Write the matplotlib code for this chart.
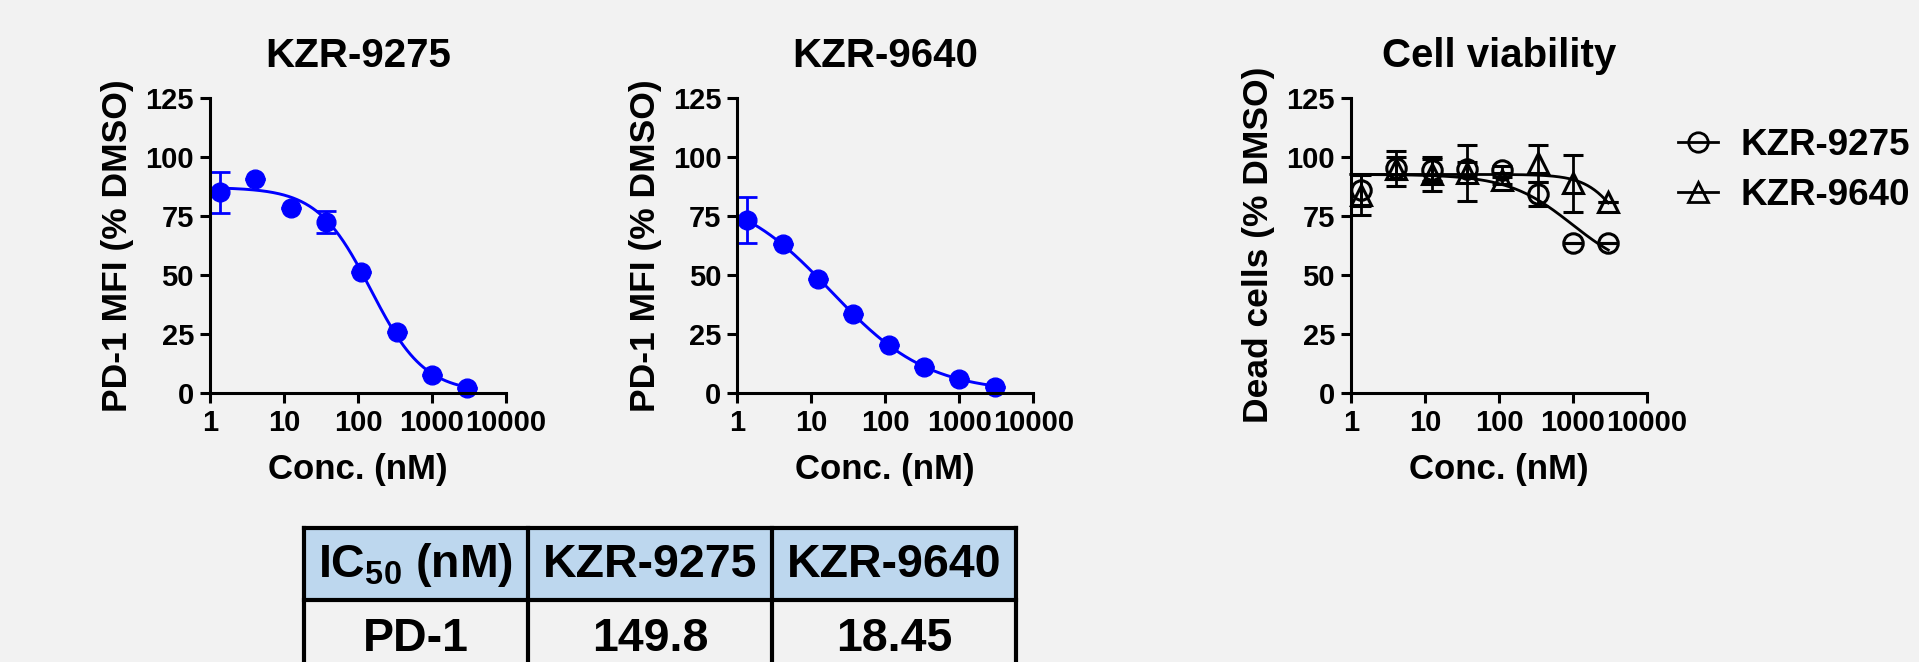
import numpy as np
import matplotlib
matplotlib.use("Agg")
import matplotlib.pyplot as plt
from matplotlib.patches import Rectangle
from matplotlib.lines import Line2D
from matplotlib.ticker import LogLocator, FixedLocator, FixedFormatter, NullFormatter

plt.rcParams['font.family'] = ['Liberation Sans', 'DejaVu Sans']
plt.rcParams['font.weight'] = 'bold'
plt.rcParams['mathtext.fontset'] = 'custom'
plt.rcParams['mathtext.rm'] = 'Liberation Sans:bold'
plt.rcParams['mathtext.bf'] = 'Liberation Sans:bold'

# ---------------- data ----------------
conc = [1.372, 4.115, 12.35, 37.04, 111.1, 333.3, 1000, 3000]

pd1_9275 = [84.9, 90.4, 78.1, 72.5, 51.0, 25.6, 7.5, 2.1]
pd1_9275_err = [8.6, 0, 0, 4.7, 0, 0, 0, 0]
pd1_9640 = [73.2, 63.0, 48.3, 33.2, 20.1, 10.7, 5.6, 2.5]
pd1_9640_err = [9.8, 0, 0, 0, 0, 0, 0, 0]

via_9275 = [85.9, 95.2, 94.4, 94.7, 94.4, 84.2, 63.3, 63.6]
via_9275_err = [6.8, 4.8, 4.5, 3.0, 1.5, 5.2, 0, 0]
via_9640 = [83.7, 95.0, 92.6, 93.1, 90.1, 97.2, 88.7, 80.9]
via_9640_err = [8.4, 7.5, 7.1, 11.9, 1.5, 7.8, 12.0, 0]

# fitted 4-parameter logistic curves: top, bottom, IC50, hill
fit_pd1_9275 = [87.0, 0.0, 149.8, 1.2]
fit_pd1_9640 = [86.0, 0.0, 18.45, 0.66]
fit_via_9275 = [92.5, 50.0, 980.0, 1.0]
fit_via_9640 = [92.5, 50.0, 5000.0, 1.8]

series_names = ["KZR-9275", "KZR-9640"]
yticks = [0, 25, 50, 75, 100, 125]
xticks = [1, 10, 100, 1000, 10000]
xticklabels = ["1", "10", "100", "1000", "10000"]

table_header = ["IC$_{50}$ (nM)", "KZR-9275", "KZR-9640"]
table_row = ["PD-1", "149.8", "18.45"]


def fourpl(x, p):
    top, bottom, ic50, hill = p
    return bottom + (top - bottom) / (1.0 + (x / ic50) ** hill)


BG = '#f2f2f2'
BLUE = '#0000ff'
W, H = 1919, 662
fig = plt.figure(figsize=(W / 100, H / 100), dpi=100, facecolor=BG)


def add_ax(left_px):
    ax = fig.add_axes([left_px / W, 1 - 392.7 / H, 296 / W, 295 / H])
    ax.set_facecolor(BG)
    ax.set_xscale('log')
    ax.set_xlim(1, 10000)
    ax.set_ylim(0, 125)
    for s in ['top', 'right']:
        ax.spines[s].set_visible(False)
    for s in ['left', 'bottom']:
        ax.spines[s].set_linewidth(2.2)
    ax.xaxis.set_major_locator(FixedLocator(xticks))
    ax.xaxis.set_major_formatter(FixedFormatter(xticklabels))
    ax.xaxis.set_minor_locator(LogLocator(base=10, subs=np.arange(2, 10)))
    ax.xaxis.set_minor_formatter(NullFormatter())
    ax.set_yticks(yticks)
    ax.tick_params(which='major', length=7.5, width=2.2, labelsize=21, pad=4)
    ax.tick_params(which='minor', length=4, width=2.0)
    ax.tick_params(axis='y', which='minor', left=False)
    for lab in ax.get_xticklabels() + ax.get_yticklabels():
        lab.set_fontweight('bold')
    ax.set_xlabel("Conc. (nM)", fontsize=25, fontweight='bold', labelpad=12)
    return ax


# panel 1
ax1 = add_ax(210)
xs = np.logspace(np.log10(conc[0]), np.log10(conc[-1]), 300)
ax1.plot(xs, fourpl(xs, fit_pd1_9275), color=BLUE, lw=2.1, clip_on=False)
ax1.errorbar(conc, pd1_9275, yerr=pd1_9275_err, fmt='o', color=BLUE, ms=13.5,
             elinewidth=2, capsize=7.5, capthick=2, clip_on=False)
ax1.set_title("KZR-9275", fontsize=29, fontweight='bold', pad=22)
ax1.set_ylabel("PD-1 MFI (% DMSO)", fontsize=25.5, fontweight='bold', labelpad=8)

# panel 2
ax2 = add_ax(737.3)
ax2.plot(xs, fourpl(xs, fit_pd1_9640), color=BLUE, lw=2.1, clip_on=False)
ax2.errorbar(conc, pd1_9640, yerr=pd1_9640_err, fmt='o', color=BLUE, ms=13.5,
             elinewidth=2, capsize=7.5, capthick=2, clip_on=False)
ax2.set_title("KZR-9640", fontsize=29, fontweight='bold', pad=22)
ax2.set_ylabel("PD-1 MFI (% DMSO)", fontsize=25.5, fontweight='bold', labelpad=8)

# panel 3
ax3 = add_ax(1351)
xs3 = np.logspace(0, np.log10(conc[-1]), 300)
ax3.plot(xs3, fourpl(xs3, fit_via_9275), color='black', lw=2.0, clip_on=False)
ax3.plot(xs3, fourpl(xs3, fit_via_9640), color='black', lw=2.0, clip_on=False)
ax3.errorbar(conc, via_9275, yerr=via_9275_err, fmt='o', mfc='none', mec='black',
             mew=2.2, ms=14, ecolor='black', elinewidth=2, capsize=7.5, capthick=2,
             clip_on=False)
ax3.errorbar(conc, via_9640, yerr=via_9640_err, fmt='^', mfc='none', mec='black',
             mew=2.2, ms=14, ecolor='black', elinewidth=2, capsize=7.5, capthick=2,
             clip_on=False)
ax3.set_title("Cell viability", fontsize=29, fontweight='bold', pad=22)
ax3.set_ylabel("Dead cells (% DMSO)", fontsize=25.5, fontweight='bold', labelpad=8)

handles = [Line2D([], [], color='black', lw=2, marker='o', mfc='none', mec='black', mew=2, ms=14),
           Line2D([], [], color='black', lw=2, marker='^', mfc='none', mec='black', mew=2, ms=14)]
fig.legend(handles, series_names, loc='upper left', bbox_to_anchor=(1678 / W, 1 - 128 / H),
           frameon=False, handlelength=1.09, handletextpad=0.6,
           labelspacing=0.4, borderpad=0, borderaxespad=0,
           prop={'weight': 'bold', 'size': 26.5})

# ---------------- table ----------------
tax = fig.add_axes([0, 0, 1, 1])
tax.set_xlim(0, W)
tax.set_ylim(H, 0)
tax.axis('off')
tax.patch.set_alpha(0)
col_edges = [304, 528, 772, 1016]
row_edges = [528, 600, 672]
HEAD = '#bdd7ee'
for i in range(3):
    tax.add_patch(Rectangle((col_edges[i], row_edges[0]), col_edges[i + 1] - col_edges[i],
                            row_edges[1] - row_edges[0], facecolor=HEAD, edgecolor='none'))
for xe in col_edges:
    tax.plot([xe, xe], [row_edges[0], row_edges[2]], color='black', lw=3, solid_capstyle='projecting')
for ye in row_edges:
    tax.plot([col_edges[0], col_edges[-1]], [ye, ye], color='black', lw=3, solid_capstyle='projecting')
for i in range(3):
    cx = (col_edges[i] + col_edges[i + 1]) / 2
    tax.text(cx, (row_edges[0] + row_edges[1]) / 2 + 1, table_header[i], ha='center', va='center',
             fontsize=33.5, fontweight='bold')
    tax.text(cx, (row_edges[1] + row_edges[2]) / 2 + 3, table_row[i], ha='center', va='center',
             fontsize=33.5, fontweight='bold')

fig.savefig("out.png", dpi=100, facecolor=BG)
